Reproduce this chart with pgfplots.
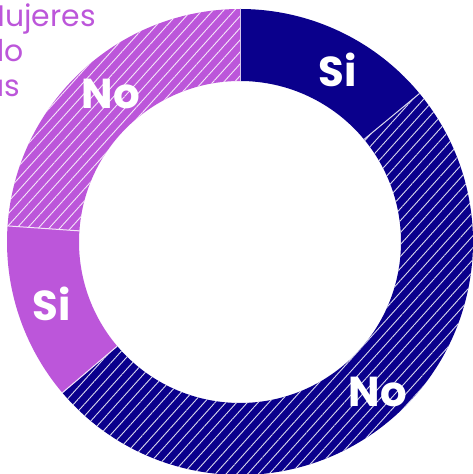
\documentclass[border=0pt]{standalone}
\usepackage{pgfplots}
\pgfplotsset{compat=1.18}
\usepackage{pgfplotstable}
\usetikzlibrary{patterns.meta}
\usepackage{fontspec}
\setmainfont{Poppins}
\definecolor{navy}{RGB}{10,0,140}
\definecolor{purp}{RGB}{188,86,218}

% value (percent), colour, hatched (1) or solid (0), label position x y (px)
\pgfplotstableread{
label value color hatch lx ly
Si 14.0 navy 0 338 404
No 49.8 navy 1 378 82
Si 12.3 purp 0 52 170
No 23.9 purp 1 111 380
}\donutdata

\begin{document}
\begin{tikzpicture}
\useasboundingbox (0,0) rectangle (473bp,474bp);
\clip (0,0) rectangle (473bp,474bp);
\begin{axis}[scale only axis, width=473bp, height=474bp,
  xmin=0, xmax=473, ymin=0, ymax=474, hide axis, clip=false]
\addplot[draw=none] coordinates {(0,0) (473,474)};
\def\cum{0}
\pgfplotsforeachungrouped \i in {0,1,2,3}{%
  \pgfplotstablegetelem{\i}{value}\of\donutdata \let\v=\pgfplotsretval
  \pgfplotstablegetelem{\i}{color}\of\donutdata \let\c=\pgfplotsretval
  \pgfplotstablegetelem{\i}{hatch}\of\donutdata \let\h=\pgfplotsretval
  \pgfmathsetmacro\a{90-3.6*\cum}%
  \pgfmathsetmacro\cum{\cum+\v}%
  \pgfmathsetmacro\b{90-3.6*\cum}%
  \pgfmathsetmacro\bb{\b+180}%
  \ifnum\h=1
    \edef\cmd{\noexpand\path[fill=\c, postaction={pattern={Lines[angle=48,distance=8bp,line width=0.9bp]}, pattern color=white!85!\c}]
      (axis cs:240,232) ++(\a:233bp) arc[start angle=\a, end angle=\b, radius=233bp]
      -- ++(\bb:72bp) arc[start angle=\b, end angle=\a, radius=161bp] -- cycle;}%
  \else
    \edef\cmd{\noexpand\path[fill=\c]
      (axis cs:240,232) ++(\a:233bp) arc[start angle=\a, end angle=\b, radius=233bp]
      -- ++(\bb:72bp) arc[start angle=\b, end angle=\a, radius=161bp] -- cycle;}%
  \fi
  \cmd
  \edef\cmd{\noexpand\draw[white!85!\c, line width=1bp] (axis cs:240,232) ++(\a:161bp) -- ++(\a:72bp);}%
  \cmd
}
\pgfplotsforeachungrouped \i in {0,1,2,3}{%
  \pgfplotstablegetelem{\i}{label}\of\donutdata \let\t=\pgfplotsretval
  \pgfplotstablegetelem{\i}{lx}\of\donutdata \let\x=\pgfplotsretval
  \pgfplotstablegetelem{\i}{ly}\of\donutdata \let\y=\pgfplotsretval
  \edef\cmd{\noexpand\node[text=white, font=\noexpand\bfseries\noexpand\fontsize{42}{42}\noexpand\selectfont] at (axis cs:\x,\y) {\t};}%
  \cmd
}
\node[anchor=base east, text=purp, font=\fontsize{30}{30}\selectfont, inner sep=0pt] at (axis cs:96,447) {Mujeres};
\node[anchor=base east, text=purp, font=\fontsize{30}{30}\selectfont, inner sep=0pt] at (axis cs:24,412) {do};
\node[anchor=base east, text=purp, font=\fontsize{30}{30}\selectfont, inner sep=0pt] at (axis cs:20,377) {us};
\end{axis}
\end{tikzpicture}
\end{document}
